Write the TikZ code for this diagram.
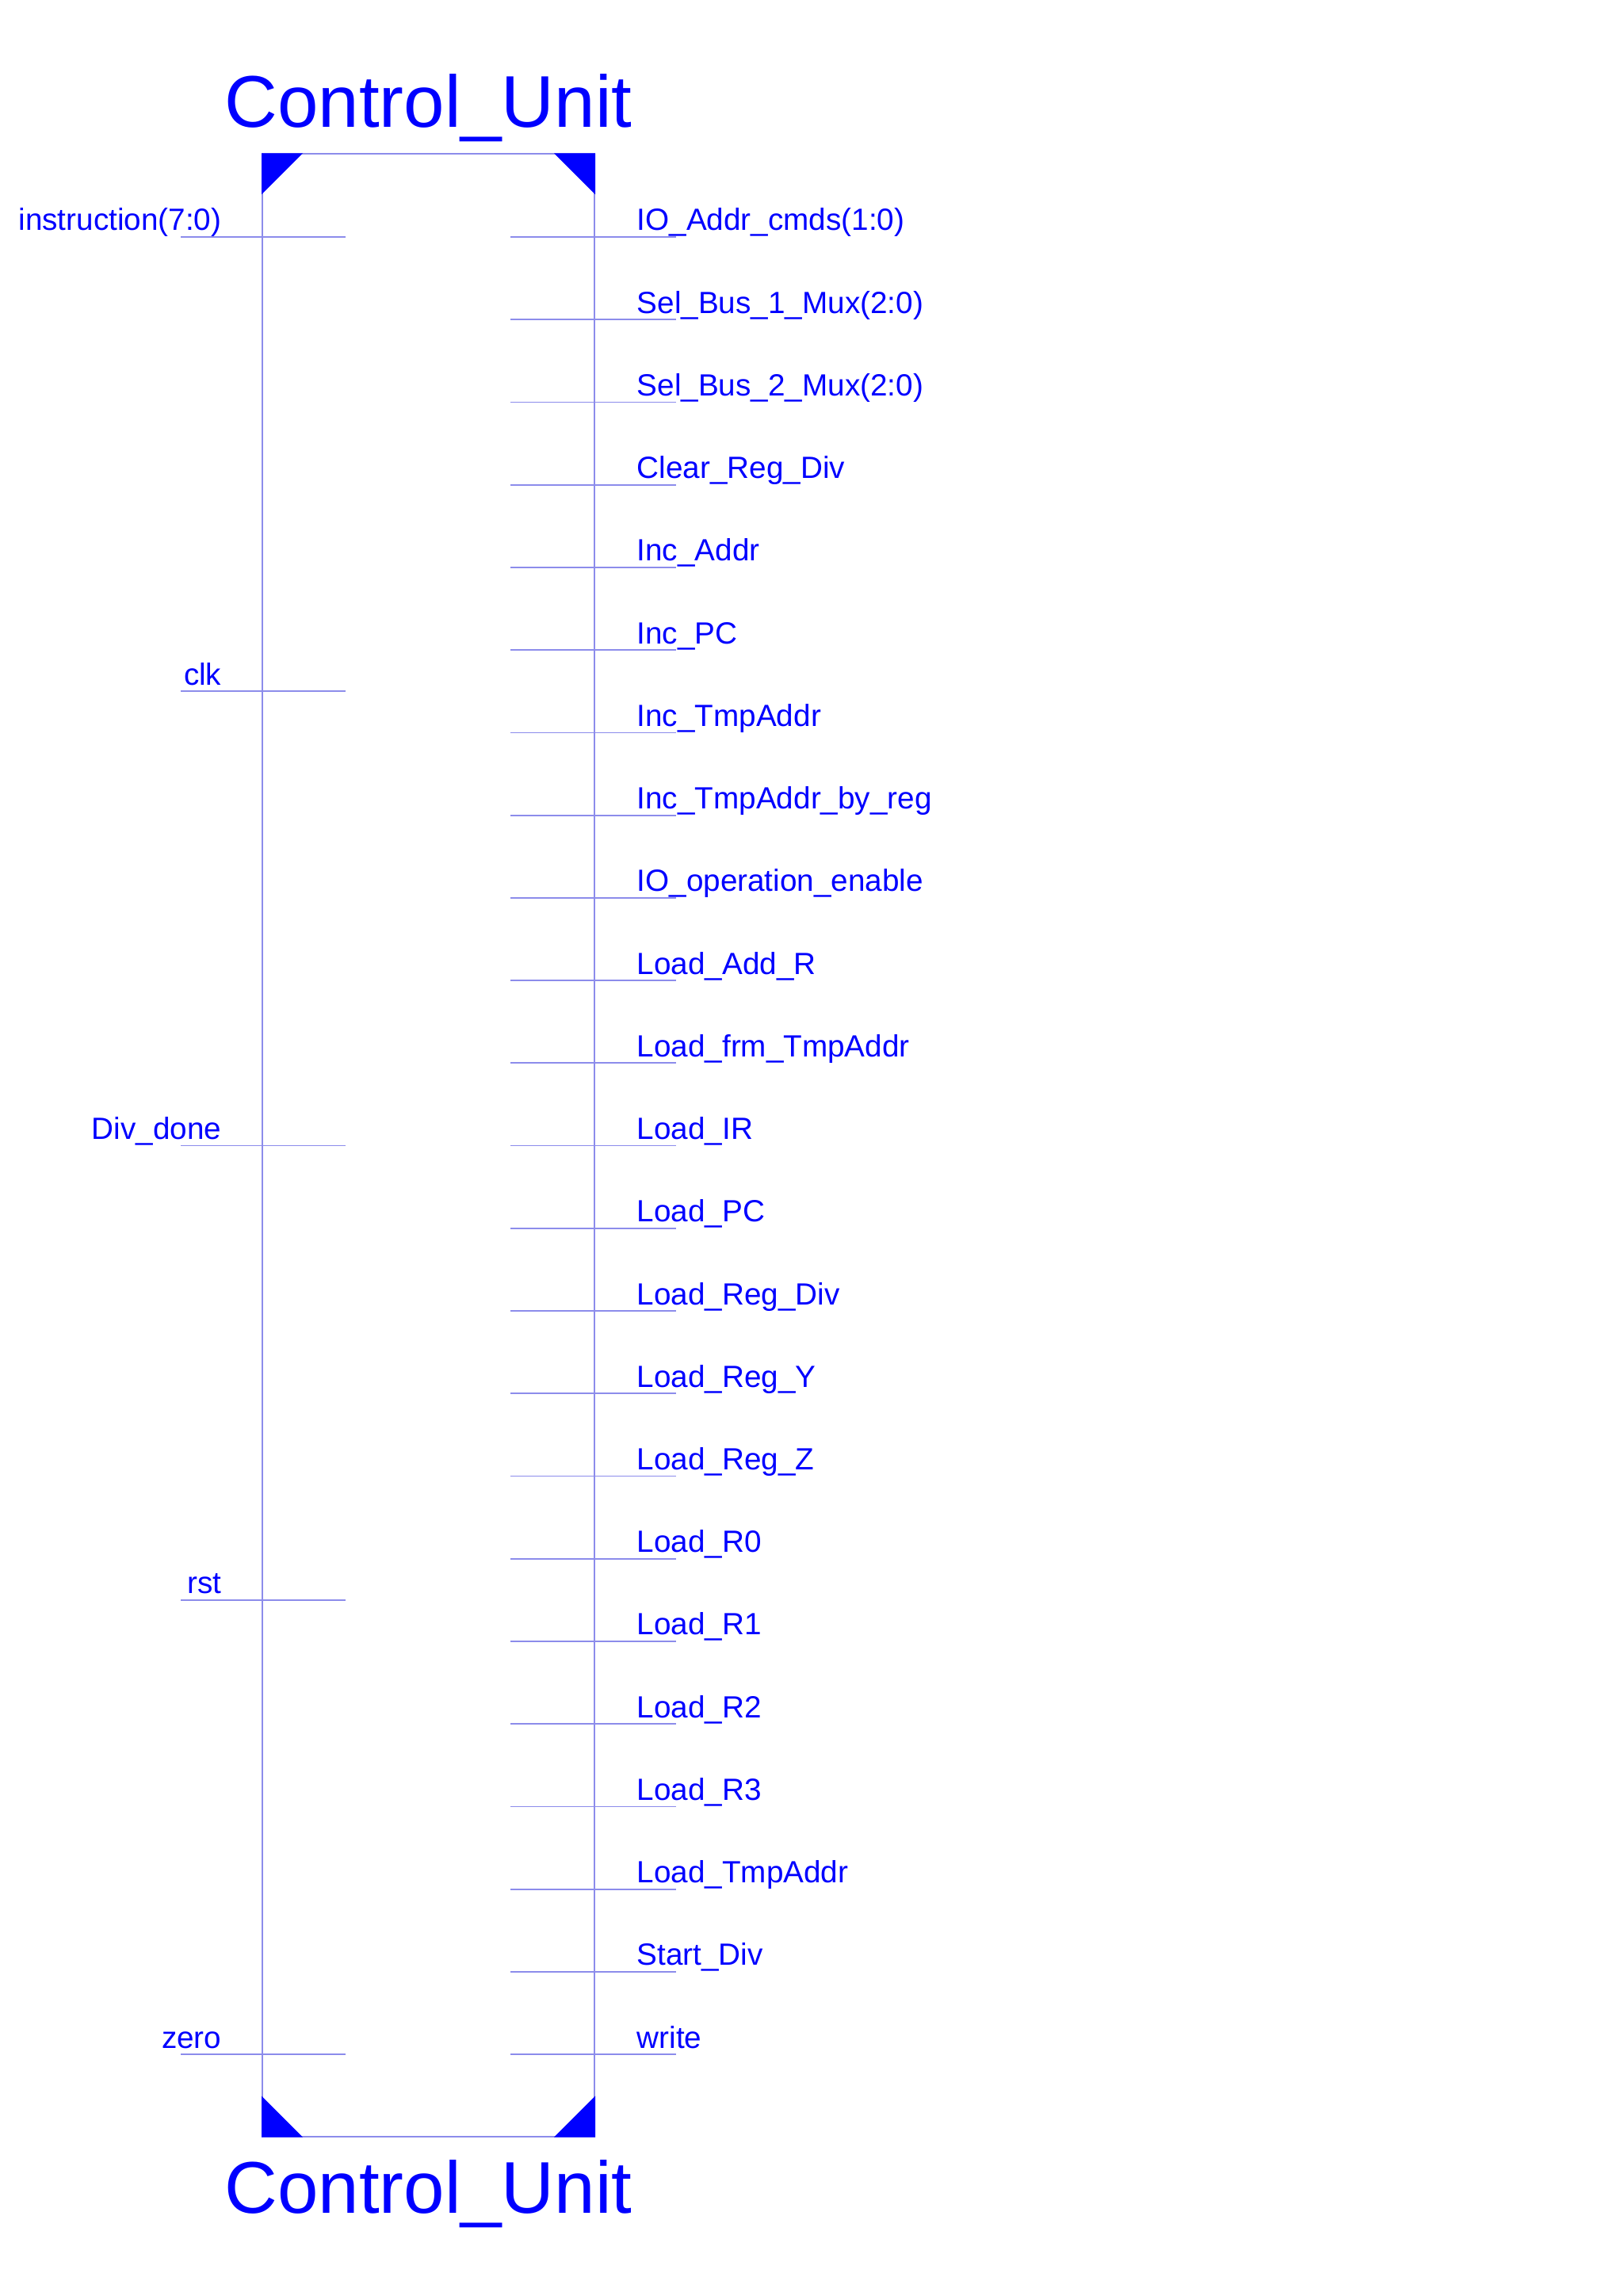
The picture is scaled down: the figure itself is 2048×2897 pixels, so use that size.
\documentclass[tikz,border=0pt]{standalone}
\usepackage{fontspec}
\setmainfont{Liberation Sans}
\usetikzlibrary{positioning}
\definecolor{pinblue}{RGB}{0,0,255}
\definecolor{wireblue}{RGB}{140,140,235}

\begin{document}
\begin{tikzpicture}[x=0.01cm, y=-0.01cm, node distance=1.0417cm, on grid,
		cutitle/.style = {text=pinblue, font=\fontsize{26.3}{30}\selectfont, inner sep=0, anchor=base},
		inlabel/.style = {text=pinblue, font=\fontsize{11}{13}\selectfont, inner sep=0, anchor=base east},
		outlabel/.style = {text=pinblue, font=\fontsize{11}{13}\selectfont, inner sep=0, anchor=base west},
		nextout/.style = {below=of #1.base west, anchor=base west},
		wire/.style = {draw=wireblue, line width=0.5pt}]
		\fill[white] (0,0) rectangle (2048,2897);
		\useasboundingbox (0,0) rectangle (2048,2897);
		% symbol body
		\node[wire, minimum width=4.19cm, minimum height=25cm, inner sep=0] (cu) at (540.5,1445) {};
		\fill[pinblue] (cu.north west) -- ++(52,0) -- ++(-52,52) -- cycle;
		\fill[pinblue] (cu.north east) -- ++(-52,0) -- ++(52,52) -- cycle;
		\fill[pinblue] (cu.south west) -- ++(52,0) -- ++(-52,-52) -- cycle;
		\fill[pinblue] (cu.south east) -- ++(-52,0) -- ++(52,-52) -- cycle;
		\node[cutitle] (top) at (540.5,160) {Control\_Unit};
		\node[cutitle] (bottom) at (540.5,2792) {Control\_Unit};
		% inputs
		\node[inlabel] (i1) at (280,291) {instruction(7:0)};
		\node[inlabel, below=5.7292cm of i1.base east, anchor=base east] (i2) {clk};
		\node[inlabel, below=5.7292cm of i2.base east, anchor=base east] (i3) {Div\_done};
		\node[inlabel, below=5.7292cm of i3.base east, anchor=base east] (i4) {rst};
		\node[inlabel, below=5.7292cm of i4.base east, anchor=base east] (i5) {zero};
		% outputs
		\node[outlabel] (o1) at (803,291) {IO\_Addr\_cmds(1:0)};
		\node[outlabel, nextout=o1] (o2) {Sel\_Bus\_1\_Mux(2:0)};
		\node[outlabel, nextout=o2] (o3) {Sel\_Bus\_2\_Mux(2:0)};
		\node[outlabel, nextout=o3] (o4) {Clear\_Reg\_Div};
		\node[outlabel, nextout=o4] (o5) {Inc\_Addr};
		\node[outlabel, nextout=o5] (o6) {Inc\_PC};
		\node[outlabel, nextout=o6] (o7) {Inc\_TmpAddr};
		\node[outlabel, nextout=o7] (o8) {Inc\_TmpAddr\_by\_reg};
		\node[outlabel, nextout=o8] (o9) {IO\_operation\_enable};
		\node[outlabel, nextout=o9] (o10) {Load\_Add\_R};
		\node[outlabel, nextout=o10] (o11) {Load\_frm\_TmpAddr};
		\node[outlabel, nextout=o11] (o12) {Load\_IR};
		\node[outlabel, nextout=o12] (o13) {Load\_PC};
		\node[outlabel, nextout=o13] (o14) {Load\_Reg\_Div};
		\node[outlabel, nextout=o14] (o15) {Load\_Reg\_Y};
		\node[outlabel, nextout=o15] (o16) {Load\_Reg\_Z};
		\node[outlabel, nextout=o16] (o17) {Load\_R0};
		\node[outlabel, nextout=o17] (o18) {Load\_R1};
		\node[outlabel, nextout=o18] (o19) {Load\_R2};
		\node[outlabel, nextout=o19] (o20) {Load\_R3};
		\node[outlabel, nextout=o20] (o21) {Load\_TmpAddr};
		\node[outlabel, nextout=o21] (o22) {Start\_Div};
		\node[outlabel, nextout=o22] (o23) {write};
		% pin stubs
		\foreach \n in {1,...,5}
			\draw[wire] ([shift={(-52,8)}]i\n.base east) -- ++(208,0);
		\foreach \n in {1,...,23}
			\draw[wire] ([shift={(-159,8)}]o\n.base west) -- ++(209,0);
	\end{tikzpicture}
\end{document}
